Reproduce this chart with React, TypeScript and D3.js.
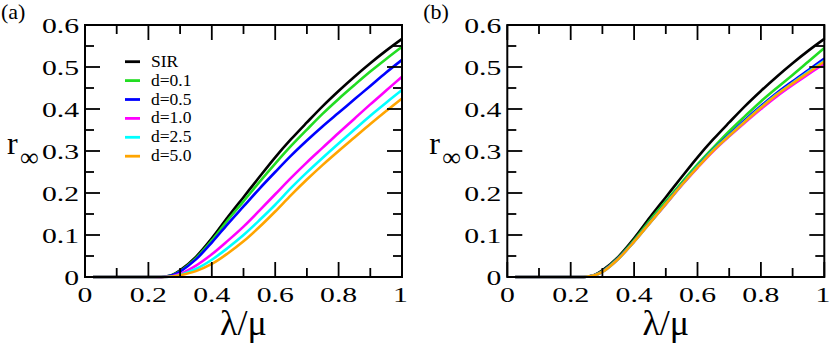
import React from "react";
import * as d3 from "d3";

// λ/μ sample grid
const lambdaGrid = [0.025, 0.1, 0.2, 0.25, 0.275, 0.3, 0.35, 0.4, 0.45, 0.5, 0.55, 0.6, 0.65, 0.7, 0.75, 0.8, 0.85, 0.9, 0.95, 1.0];

const seriesNames = ["SIR", "d=0.1", "d=0.5", "d=1.0", "d=2.5", "d=5.0"];
const seriesColors = ["#000000", "#22dd22", "#0000ff", "#ff00ff", "#00ffff", "#ffa500"];

// panel (a)
const sirA = [0, 0, 0, 0.0005, 0.005, 0.016, 0.048, 0.092, 0.142, 0.19, 0.238, 0.285, 0.328, 0.368, 0.407, 0.443, 0.477, 0.509, 0.539, 0.567];
const d01A = [0, 0, 0, 0.0005, 0.004, 0.014, 0.045, 0.087, 0.135, 0.18, 0.226, 0.27, 0.312, 0.351, 0.389, 0.424, 0.457, 0.489, 0.519, 0.548];
const d05A = [0, 0, 0, 0.0005, 0.004, 0.013, 0.042, 0.082, 0.126, 0.168, 0.21, 0.25, 0.289, 0.325, 0.359, 0.391, 0.423, 0.455, 0.487, 0.517];
const d10A = [0, 0, 0, 0, 0.002, 0.007, 0.027, 0.054, 0.086, 0.12, 0.158, 0.197, 0.236, 0.273, 0.308, 0.343, 0.377, 0.411, 0.444, 0.477];
const d25A = [0, 0, 0, 0, 0.001, 0.005, 0.019, 0.041, 0.069, 0.1, 0.135, 0.172, 0.212, 0.249, 0.284, 0.318, 0.351, 0.384, 0.415, 0.445];
const d50A = [0, 0, 0, 0, 0.001, 0.004, 0.014, 0.031, 0.056, 0.085, 0.119, 0.156, 0.195, 0.232, 0.267, 0.3, 0.332, 0.364, 0.395, 0.425];

// panel (b)
const sirB = [0, 0, 0, 0.0005, 0.005, 0.016, 0.048, 0.092, 0.142, 0.19, 0.238, 0.285, 0.328, 0.368, 0.407, 0.443, 0.477, 0.509, 0.539, 0.567];
const d01B = [0, 0, 0, 0.0005, 0.004, 0.014, 0.046, 0.088, 0.135, 0.18, 0.225, 0.268, 0.308, 0.347, 0.383, 0.418, 0.45, 0.481, 0.513, 0.545];
const d05B = [0, 0, 0, 0.0005, 0.004, 0.013, 0.044, 0.085, 0.13, 0.175, 0.22, 0.263, 0.303, 0.339, 0.374, 0.407, 0.438, 0.466, 0.493, 0.52];
const d10B = [0, 0, 0, 0.0005, 0.004, 0.012, 0.043, 0.084, 0.129, 0.173, 0.218, 0.26, 0.3, 0.335, 0.368, 0.4, 0.43, 0.457, 0.483, 0.508];
const d25B = [0, 0, 0, 0.0005, 0.004, 0.012, 0.043, 0.084, 0.129, 0.174, 0.219, 0.262, 0.302, 0.337, 0.371, 0.404, 0.435, 0.462, 0.489, 0.515];
const d50B = [0, 0, 0, 0.0005, 0.004, 0.012, 0.043, 0.084, 0.129, 0.174, 0.219, 0.261, 0.301, 0.336, 0.37, 0.403, 0.434, 0.461, 0.487, 0.513];

const xMajorTicks = [0, 0.2, 0.4, 0.6, 0.8, 1];
const xTickLabels = ["0", "0.2", "0.4", "0.6", "0.8", "1"];
const xMinorTicks = [0.1, 0.3, 0.5, 0.7, 0.9];
const yMajorTicks = [0, 0.1, 0.2, 0.3, 0.4, 0.5, 0.6];
const yTickLabels = ["0", "0.1", "0.2", "0.3", "0.4", "0.5", "0.6"];
const yMinorTicks = [0.05, 0.15, 0.25, 0.35, 0.45, 0.55];

const panelTags = ["(a)", "(b)"];

const W = 830;
const H = 345;
const TOP = 25;
const BOTTOM = 277;
const PW = 317;
const panelLefts = [85, 507.3];

const SERIF = "Liberation Serif, DejaVu Serif, serif";
const MAJ = 15;
const MIN = 9;

const txt = (size: number) => ({ fontFamily: SERIF, fontSize: size + "px" });

function Panel({ left, tag, data, legend }: { left: number; tag: string; data: number[][]; legend: boolean }) {
  const x = d3.scaleLinear().domain([0, 1]).range([left, left + PW]);
  const y = d3.scaleLinear().domain([0, 0.6]).range([BOTTOM, TOP]);
  const line = d3
    .line<number>()
    .x((_, i) => x(lambdaGrid[i]))
    .y((v) => y(v))
    .curve(d3.curveCatmullRom.alpha(0.5));
  const right = left + PW;
  const ticks: any[] = [];
  xMajorTicks.forEach((t, i) => {
    ticks.push(<line key={"xb" + i} x1={x(t)} x2={x(t)} y1={BOTTOM} y2={BOTTOM - MAJ} />);
    ticks.push(<line key={"xt" + i} x1={x(t)} x2={x(t)} y1={TOP} y2={TOP + MAJ} />);
  });
  xMinorTicks.forEach((t, i) => {
    ticks.push(<line key={"xbm" + i} x1={x(t)} x2={x(t)} y1={BOTTOM} y2={BOTTOM - MIN} />);
    ticks.push(<line key={"xtm" + i} x1={x(t)} x2={x(t)} y1={TOP} y2={TOP + MIN} />);
  });
  yMajorTicks.forEach((t, i) => {
    ticks.push(<line key={"yl" + i} x1={left} x2={left + MAJ} y1={y(t)} y2={y(t)} />);
    ticks.push(<line key={"yr" + i} x1={right} x2={right - MAJ} y1={y(t)} y2={y(t)} />);
  });
  yMinorTicks.forEach((t, i) => {
    ticks.push(<line key={"ylm" + i} x1={left} x2={left + MIN} y1={y(t)} y2={y(t)} />);
    ticks.push(<line key={"yrm" + i} x1={right} x2={right - MIN} y1={y(t)} y2={y(t)} />);
  });

  return (
    <g>
      <text x={left - 84} y={19} style={txt(22)}>
        {tag}
      </text>
      {data.map((vals, k) => (
        <path key={k} d={line(vals) || ""} fill="none" stroke={seriesColors[k]} strokeWidth={2.6} strokeLinejoin="round" />
      ))}
      <rect x={left} y={TOP} width={PW} height={BOTTOM - TOP} fill="none" stroke="#000" strokeWidth={2} />
      <g stroke="#000" strokeWidth={1.8}>{ticks}</g>
      {yMajorTicks.map((t, i) => (
        <text
          key={"yl" + i}
          transform={`translate(${left - 6},${y(t) + 7.5}) scale(1.35,1)`}
          textAnchor="end"
          style={txt(22)}
        >
          {yTickLabels[i]}
        </text>
      ))}
      {xMajorTicks.map((t, i) => (
        <text
          key={"xl" + i}
          transform={`translate(${x(t) - (t === 1 ? 1.5 : 0)},${301.5}) scale(1.35,1)`}
          textAnchor="middle"
          style={txt(22)}
        >
          {xTickLabels[i]}
        </text>
      ))}
      <text x={left - 78} y={154} style={txt(32)}>
        r
      </text>
      <text x={left - 65} y={166} style={txt(26)}>
        ∞
      </text>
      <text x={left + PW / 2} y={335} textAnchor="middle" style={txt(36)}>
        λ/μ
      </text>
      {legend &&
        seriesNames.map((name, k) => {
          const ly = 61.7 + k * 18.9;
          return (
            <g key={name}>
              <line x1={left + 40} x2={left + 55} y1={ly} y2={ly} stroke={seriesColors[k]} strokeWidth={2.8} />
              <text x={left + 66} y={ly + 5} style={txt(17.5)}>
                {name}
              </text>
            </g>
          );
        })}
    </g>
  );
}

export default function App() {
  const dataA = [sirA, d01A, d05A, d10A, d25A, d50A];
  const dataB = [sirB, d01B, d05B, d10B, d25B, d50B];
  return (
    <svg width={W} height={H} style={{ position: "absolute", left: 0, top: 0, background: "#fff" }}>
      <rect width={W} height={H} fill="#fff" />
      <Panel left={panelLefts[0]} tag={panelTags[0]} data={dataA} legend={true} />
      <Panel left={panelLefts[1]} tag={panelTags[1]} data={dataB} legend={false} />
    </svg>
  );
}
